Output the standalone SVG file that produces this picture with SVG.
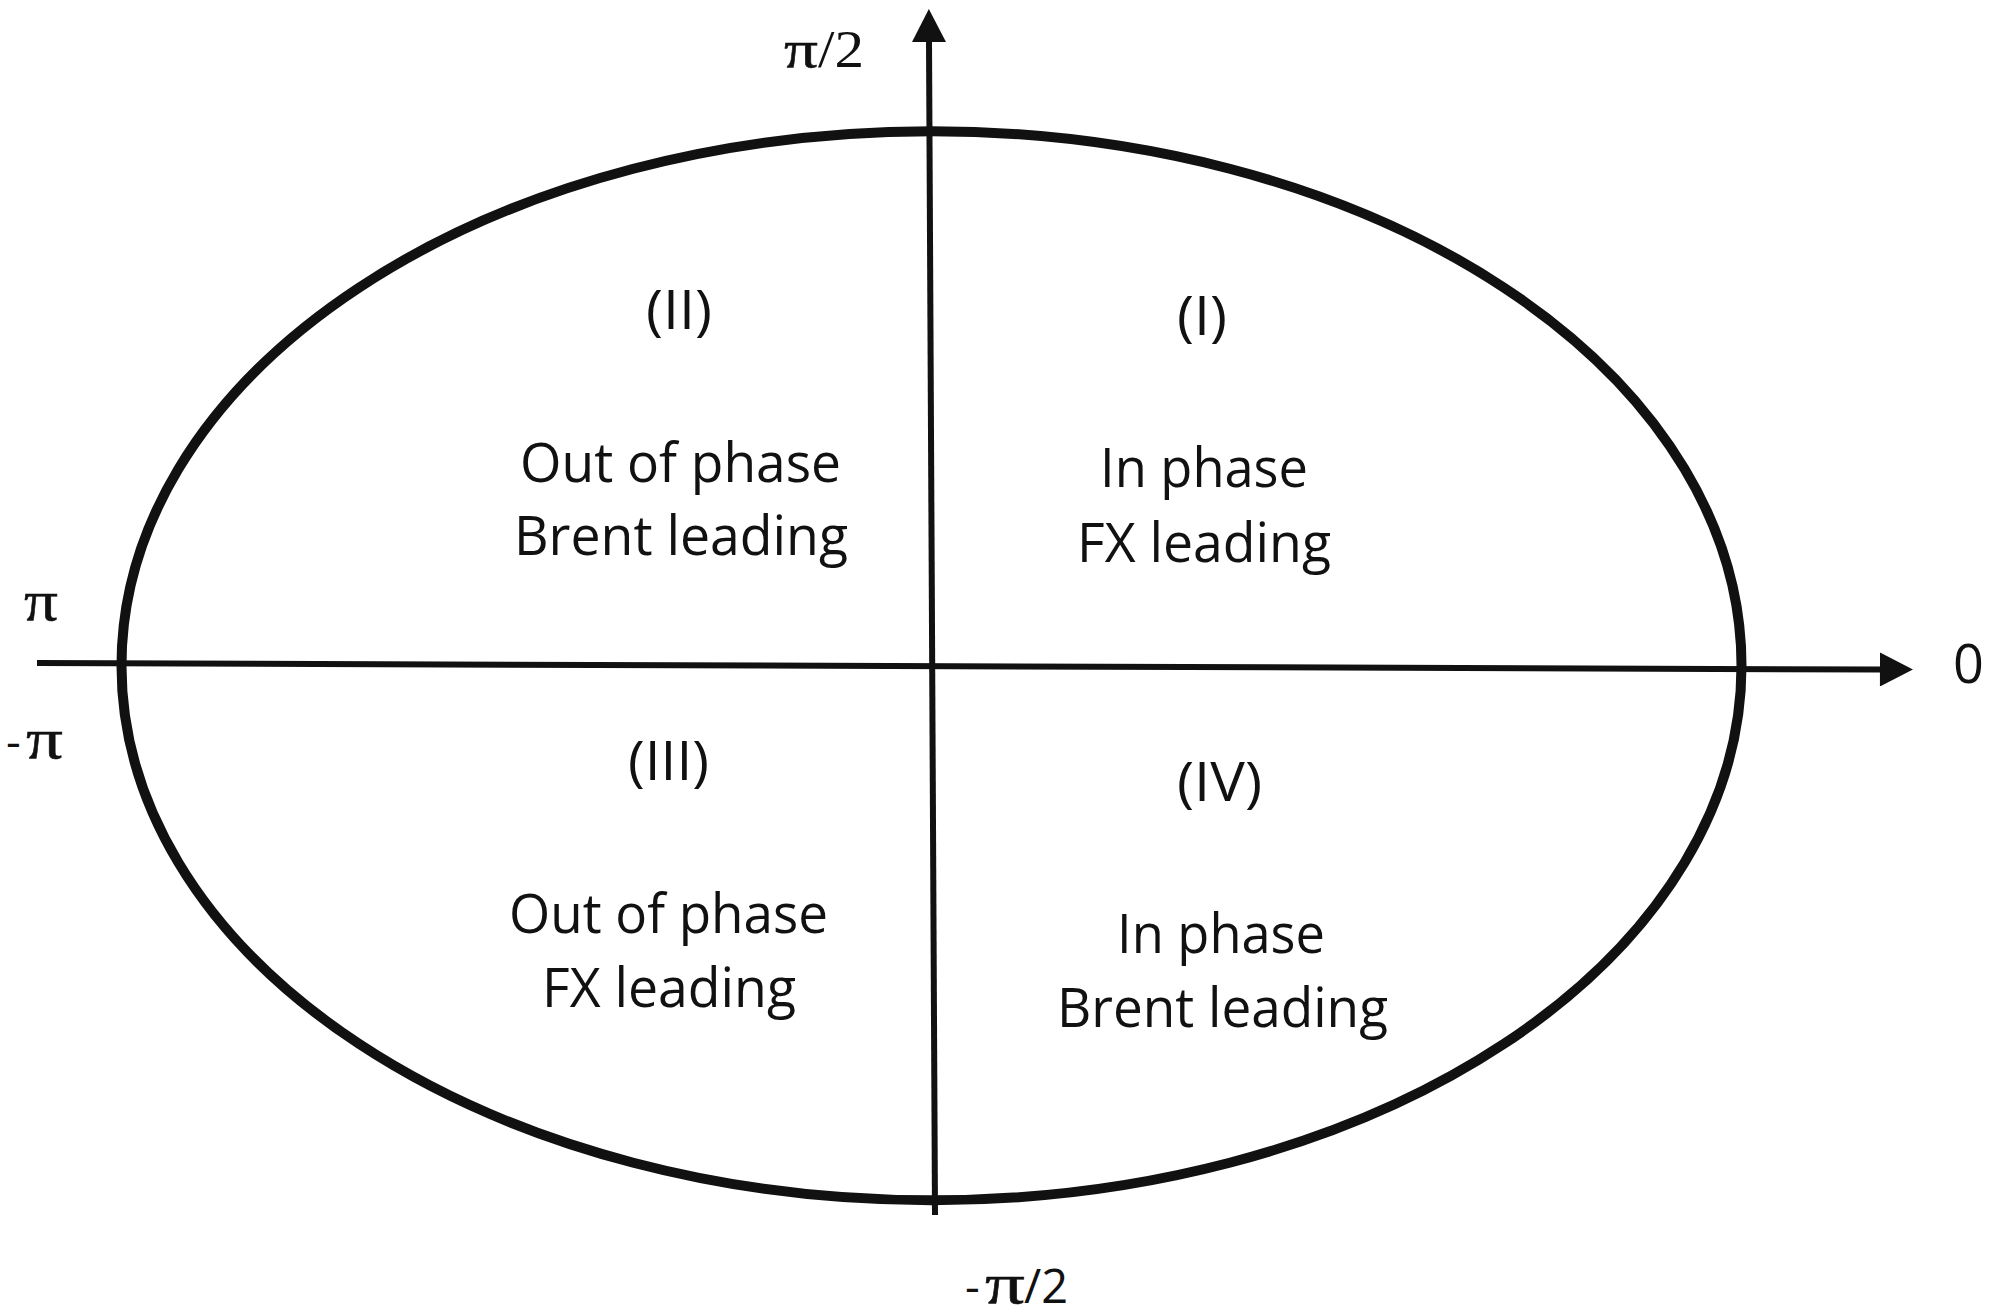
<svg xmlns="http://www.w3.org/2000/svg" width="1992" height="1315" viewBox="0 0 1992 1315">
  <defs>
    <style>
      .q { font-family: "Open Sans", "Liberation Sans", sans-serif; font-size: 55px; fill: #111; }
      .ser { font-family: "Liberation Serif", "DejaVu Serif", serif; fill: #111; }
      .pi { stroke: #111; stroke-width: 0.5; }
      .san { font-family: "Open Sans", "Liberation Sans", sans-serif; fill: #111; }
      .axis { stroke: #111; stroke-width: 6; fill: none; }
    </style>
    <marker id="arrow" markerUnits="userSpaceOnUse" markerWidth="34" markerHeight="34" viewBox="0 0 32 33" refX="1" refY="16.5" orient="auto">
      <path d="M0,0 L32,16.5 L0,33 Z" fill="#111"/>
    </marker>
  </defs>
  <rect width="1992" height="1315" fill="#fff"/>

  <g id="ellipse">
    <ellipse cx="931.5" cy="665.75" rx="810" ry="534.5" fill="none" stroke="#111" stroke-width="10"/>
  </g>

  <g id="connectors">
    <line class="axis" x1="37" y1="663" x2="1881" y2="669.5" marker-end="url(#arrow)"/>
    <line class="axis" x1="935" y1="1215" x2="929" y2="41" marker-end="url(#arrow)"/>
  </g>

  <g id="quadrant-II">
    <text class="q" x="646" y="329" textLength="66" lengthAdjust="spacingAndGlyphs">(II)</text>
    <text class="q" x="520" y="482" textLength="321" lengthAdjust="spacingAndGlyphs">Out of phase</text>
    <text class="q" x="514" y="555" textLength="334" lengthAdjust="spacingAndGlyphs">Brent leading</text>
  </g>

  <g id="quadrant-I">
    <text class="q" x="1177" y="335" textLength="50" lengthAdjust="spacingAndGlyphs">(I)</text>
    <text class="q" x="1100" y="487" textLength="208" lengthAdjust="spacingAndGlyphs">In phase</text>
    <text class="q" x="1077" y="562" textLength="254" lengthAdjust="spacingAndGlyphs">FX leading</text>
  </g>

  <g id="quadrant-III">
    <text class="q" x="628" y="780" textLength="81" lengthAdjust="spacingAndGlyphs">(III)</text>
    <text class="q" x="509" y="933" textLength="319" lengthAdjust="spacingAndGlyphs">Out of phase</text>
    <text class="q" x="542" y="1007" textLength="254" lengthAdjust="spacingAndGlyphs">FX leading</text>
  </g>

  <g id="quadrant-IV">
    <text class="q" x="1177" y="801" textLength="85" lengthAdjust="spacingAndGlyphs">(IV)</text>
    <text class="q" x="1117" y="953" textLength="208" lengthAdjust="spacingAndGlyphs">In phase</text>
    <text class="q" x="1057" y="1027" textLength="331" lengthAdjust="spacingAndGlyphs">Brent leading</text>
  </g>

  <g id="axis-labels">
    <text class="ser" x="784" y="67" font-size="52"><tspan class="pi" x="784" textLength="34" lengthAdjust="spacingAndGlyphs">π</tspan><tspan x="818" textLength="46" lengthAdjust="spacingAndGlyphs">/2</tspan></text>
    <text class="ser pi" x="24" y="620" font-size="58" textLength="34" lengthAdjust="spacingAndGlyphs">π</text>
    <text y="758" font-size="58"><tspan class="san" x="6" font-size="46">-</tspan><tspan class="ser pi" x="26" textLength="37" lengthAdjust="spacingAndGlyphs">π</tspan></text>
    <text class="san" x="1953" y="683" font-size="54">0</text>
    <text y="1303"><tspan class="san" x="965" font-size="46">-</tspan><tspan class="ser pi" x="985" font-size="56" textLength="40" lengthAdjust="spacingAndGlyphs">π</tspan><tspan class="san" x="1024" font-size="47">/2</tspan></text>
  </g>
</svg>
